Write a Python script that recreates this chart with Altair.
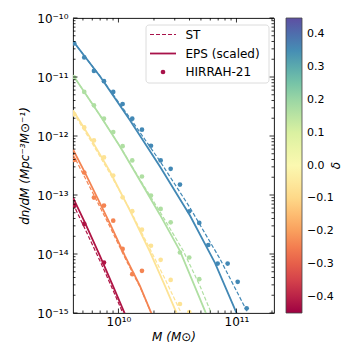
import altair as alt
import pandas as pd

FONT = "DejaVu Sans"
W, H = 201, 295

# delta of each density bin (colour)
DELTAS = [-0.42, -0.24, -0.07, 0.17, 0.36]

# ---- HIRRAH-21 points ----
M_BINS = [4.22e9, 5.13e9, 6.20e9, 7.54e9, 9.03e9, 1.085e10, 1.309e10, 1.582e10,
          1.886e10, 2.279e10, 2.770e10, 3.320e10, 3.98e10, 4.84e10, 5.77e10,
          6.93e10, 8.42e10, 1.024e11, 1.22e11]
PTS_BLUE = [3.71e-11, 2.15e-11, 1.27e-11, 8.49e-12, 5.58e-12, 3.49e-12, 1.97e-12,
            1.28e-12, 6.84e-13, 3.85e-13, 2.78e-13, 1.50e-13, 5.28e-14, 3.36e-14,
            1.42e-14, 6.89e-15, 6.89e-15, 3.37e-15, 1.20e-15]
PTS_GREEN = [9.80e-12, 5.58e-12, 3.31e-12, 1.97e-12, 1.165e-12, 6.73e-13, 3.85e-13,
             2.06e-13, 9.77e-14, 5.81e-14, 3.44e-14, 1.06e-14, 8.73e-15, 3.74e-15]
PTS_YELLOW = [2.33e-12, 1.40e-12, 8.41e-13, 4.33e-13, 2.14e-13, 9.14e-14, 5.32e-14,
              2.58e-14, 1.38e-14, 7.96e-15, 3.64e-15, 1.42e-15, 1.04e-15]
PTS_ORANGE = [3.93e-13, 2.40e-13, 9.04e-14, 6.61e-14, 3.67e-14, 1.22e-14, 4.55e-15, 5.18e-15]
PTS_CRIMSON_M = [4.22e9, 5.13e9, 7.54e9]
PTS_CRIMSON = [6.6e-14, 3.23e-14, 7.16e-15]

# ---- EPS (scaled) curves ----
EPS_M = [
    [4.12e9, 5.20e9, 6.97e9, 8.98e9, 1.135e10, 1.204e10],
    [4.12e9, 5.20e9, 6.74e9, 8.47e9, 1.135e10, 1.521e10, 1.911e10, 2.038e10],
    [4.12e9, 5.735e9, 8.47e9, 1.252e10, 1.849e10, 2.478e10, 3.132e10, 3.320e10],
    [4.12e9, 6.97e9, 1.03e10, 1.521e10, 2.247e10, 3.320e10, 4.906e10, 5.965e10],
    [4.12e9, 6.97e9, 1.252e10, 2.247e10, 4.036e10, 6.573e10, 1.071e11],
]
EPS_Y = [
    [9.03e-14, 3.40e-14, 9.31e-15, 2.88e-15, 9.62e-16, 7.03e-16],
    [5.92e-13, 2.40e-13, 8.35e-14, 3.26e-14, 9.31e-15, 2.88e-15, 9.62e-16, 7.03e-16],
    [2.725e-12, 9.47e-13, 2.50e-13, 5.43e-14, 1.09e-14, 2.88e-15, 9.62e-16, 7.31e-16],
    [1.074e-11, 2.24e-12, 6.65e-13, 1.758e-13, 4.64e-14, 1.133e-14, 1.73e-15, 6.76e-16],
    [4.06e-11, 1.032e-11, 1.85e-12, 3.05e-13, 4.50e-14, 7.08e-15, 7.31e-16],
]
# ---- ST curves ----
ST_M = [
    [4.12e9, 5.20e9, 6.97e9, 8.98e9, 1.098e10, 1.158e10],
    [4.12e9, 5.20e9, 6.74e9, 8.47e9, 1.135e10, 1.521e10, 1.911e10, 2.038e10],
    [4.12e9, 5.735e9, 8.47e9, 1.252e10, 1.849e10, 2.478e10, 3.432e10, 3.661e10],
    [4.12e9, 6.97e9, 1.03e10, 1.521e10, 2.247e10, 3.541e10, 4.906e10, 6.165e10, 6.573e10],
    [4.12e9, 6.97e9, 1.252e10, 2.247e10, 4.036e10, 7.246e10, 1.301e11],
]
ST_Y = [
    [7.14e-14, 2.68e-14, 7.66e-15, 2.46e-15, 9.62e-16, 7.31e-16],
    [4.87e-13, 1.977e-13, 7.14e-14, 2.90e-14, 8.61e-15, 2.77e-15, 9.62e-16, 7.03e-16],
    [2.52e-12, 8.75e-13, 2.31e-13, 5.65e-14, 1.226e-14, 3.79e-15, 9.62e-16, 7.31e-16],
    [1.074e-11, 2.24e-12, 6.65e-13, 1.828e-13, 5.22e-14, 1.133e-14, 2.88e-15, 9.62e-16, 6.76e-16],
    [4.06e-11, 1.032e-11, 2.02e-12, 3.75e-13, 6.10e-14, 8.28e-15, 8.55e-16],
]

X_MAJOR = [1e10, 1e11]
X_MINOR = [5e9, 6e9, 7e9, 8e9, 9e9, 2e10, 3e10, 4e10, 5e10, 6e10, 7e10, 8e10, 9e10, 2e11]
Y_MAJOR = [1e-15, 1e-14, 1e-13, 1e-12, 1e-11, 1e-10]
Y_MINOR = [k * d for d in [1e-15, 1e-14, 1e-13, 1e-12, 1e-11] for k in range(2, 10)]
CBAR_TICKS = [-0.4, -0.3, -0.2, -0.1, 0.0, 0.1, 0.2, 0.3, 0.4]

# ---- tables ----
def curves(Ms, Ys):
    rows = []
    for d, ms, ys in zip(DELTAS, Ms, Ys):
        for m, y in zip(ms, ys):
            rows.append({"delta": d, "M": m, "y": y})
    return pd.DataFrame(rows)

eps_df = curves(EPS_M, EPS_Y)
st_df = curves(ST_M, ST_Y)
pt_sets = [(PTS_CRIMSON_M, PTS_CRIMSON), (M_BINS[:len(PTS_ORANGE)], PTS_ORANGE),
           (M_BINS[:len(PTS_YELLOW)], PTS_YELLOW), (M_BINS[:len(PTS_GREEN)], PTS_GREEN),
           (M_BINS[:len(PTS_BLUE)], PTS_BLUE)]
pts_df = curves([p[0] for p in pt_sets], [p[1] for p in pt_sets])

xscale = alt.Scale(type="log", domain=[4.12e9, 2.08e11], nice=False)
yscale = alt.Scale(type="log", domain=[1e-15, 1e-10], nice=False)
cscale = alt.Scale(scheme="spectral", domain=[-0.45, 0.45])

xaxis = alt.Axis(values=X_MAJOR, labelExpr="datum.value < 5e10 ? '10¹⁰' : '10¹¹'",
                 ticks=False, tickSize=0, domain=False, grid=False, labelFlush=False,
                 labelOverlap=False, labelPadding=3, labelFontSize=12, labelFont=FONT,
                 labelColor="black", title="M (M⊙)", titleFont=FONT, titleFontSize=12,
                 titleFontWeight="normal", titleFontStyle="italic", titleColor="black",
                 titlePadding=4)
ylab = ("datum.value > 5e-11 ? '10⁻¹⁰' : datum.value > 5e-12 ? '10⁻¹¹' : "
        "datum.value > 5e-13 ? '10⁻¹²' : datum.value > 5e-14 ? '10⁻¹³' : "
        "datum.value > 5e-15 ? '10⁻¹⁴' : '10⁻¹⁵'")
yaxis = alt.Axis(values=Y_MAJOR, labelExpr=ylab, ticks=False, tickSize=0, domain=False,
                 grid=False, labelFlush=False, labelOverlap=False, labelPadding=5,
                 labelFontSize=12, labelFont=FONT, labelColor="black",
                 title="dn/dM (Mpc⁻³M⊙⁻¹)", titleFont=FONT, titleFontSize=12,
                 titleFontWeight="normal", titleFontStyle="italic", titleColor="black",
                 titlePadding=5)
clegend = alt.Legend(
    type="gradient", title=None, orient="none", legendX=W + 12, legendY=0,
    direction="vertical", gradientLength=H, gradientThickness=16, values=CBAR_TICKS,
    labelExpr="replace(format(datum.value, '.1f'), '-', '−')",
    labelFontSize=11, labelFont=FONT, labelColor="black", labelOffset=5,
    labelOverlap=False, gradientStrokeColor="#444", gradientStrokeWidth=0.8)

X = alt.X("M:Q", scale=xscale, axis=xaxis)
Y = alt.Y("y:Q", scale=yscale, axis=yaxis)

eps = alt.Chart(eps_df).mark_line(clip=True, strokeWidth=1.8).encode(
    x=X, y=Y, color=alt.Color("delta:Q", scale=cscale, legend=clegend), detail="delta:N")
st = alt.Chart(st_df).mark_line(clip=True, strokeWidth=1.2, strokeDash=[4, 2]).encode(
    x=X, y=Y, color=alt.Color("delta:Q", scale=cscale, legend=None), detail="delta:N")
pts = alt.Chart(pts_df).mark_circle(size=22, opacity=1, clip=True).encode(
    x=X, y=Y, color=alt.Color("delta:Q", scale=cscale, legend=None))

def ticks(vals, axis, side, length):
    if axis == "x":
        df = pd.DataFrame({"M": vals})
        enc = dict(x=X)
        if side == "bottom":
            enc.update(y=alt.value(H), y2=alt.value(H - length))
        else:
            enc.update(y=alt.value(0), y2=alt.value(length))
    else:
        df = pd.DataFrame({"y": vals})
        enc = dict(y=Y)
        if side == "left":
            enc.update(x=alt.value(0), x2=alt.value(length))
        else:
            enc.update(x=alt.value(W), x2=alt.value(W - length))
    return alt.Chart(df).mark_rule(color="black", strokeWidth=0.8).encode(**enc)

tick_layers = []
for side in ["bottom", "top"]:
    tick_layers.append(ticks(X_MAJOR, "x", side, 4.5))
    tick_layers.append(ticks(X_MINOR, "x", side, 2.5))
for side in ["left", "right"]:
    tick_layers.append(ticks(Y_MAJOR, "y", side, 4.5))
    tick_layers.append(ticks(Y_MINOR, "y", side, 2.5))

# ---- legend box ----
LEG_COLOR = "#a8124a"
one = pd.DataFrame({"a": [0]})
box = alt.Chart(one).mark_rect(fill="white", stroke="#d0d0d0", strokeWidth=0.8,
                               cornerRadius=3, opacity=0.9).encode(
    x=alt.value(73), x2=alt.value(196), y=alt.value(7), y2=alt.value(65))
leg_st = alt.Chart(one).mark_rule(color=LEG_COLOR, strokeWidth=1.2, strokeDash=[4, 2]).encode(
    x=alt.value(77), x2=alt.value(103), y=alt.value(16.5))
leg_eps = alt.Chart(one).mark_rule(color=LEG_COLOR, strokeWidth=1.8).encode(
    x=alt.value(77), x2=alt.value(103), y=alt.value(35.5))
leg_pt = alt.Chart(one).mark_circle(color=LEG_COLOR, size=22, opacity=1).encode(
    x=alt.value(90), y=alt.value(54))
leg_txt = [alt.Chart(one).mark_text(text=t, align="left", baseline="middle", font=FONT,
                                    fontSize=12, color="black").encode(
    x=alt.value(112.5), y=alt.value(yy)) for t, yy in
    [("ST", 16.5), ("EPS (scaled)", 35.5), ("HIRRAH-21", 54)]]
cbar_title = alt.Chart(one).mark_text(text="δ", angle=270, align="center", baseline="middle",
                                      font=FONT, fontSize=12, fontStyle="italic",
                                      color="black").encode(
    x=alt.value(W + 62), y=alt.value(H / 2))

chart = alt.layer(eps, st, pts, *tick_layers, box, leg_st, leg_eps, leg_pt, *leg_txt,
                  cbar_title).resolve_legend(color="independent").properties(
    width=W, height=H, autosize=alt.AutoSizeParams(type="none"),
    padding={"left": 65, "top": 10, "right": 78, "bottom": 39},
).configure_view(stroke="black", strokeWidth=0.9)

chart.save("out.html", embed_options={"renderer": "svg", "actions": False})
